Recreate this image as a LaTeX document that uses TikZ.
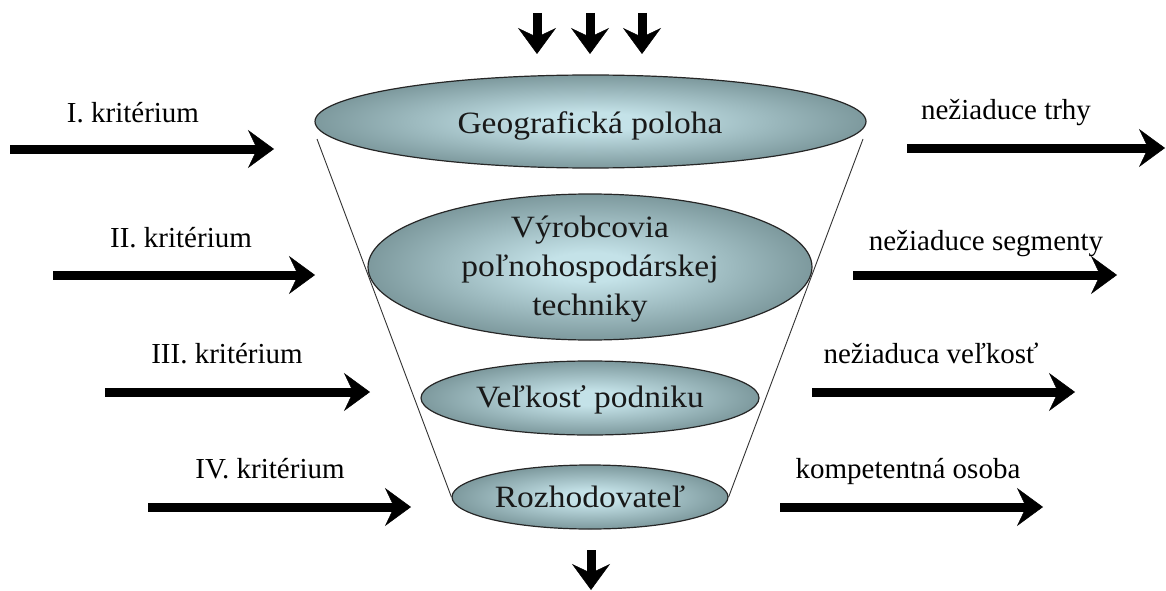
\documentclass[tikz,border=0pt]{standalone}
\usepackage{fontspec}
\setmainfont{Liberation Serif}
\newfontfamily\widefont{Liberation Serif}[FakeStretch=1.08]
\usetikzlibrary{shapes.geometric,arrows.meta}
\definecolor{fin}{RGB}{196,226,232}
\definecolor{fmid}{RGB}{118,146,150}
\definecolor{fout}{RGB}{58,76,78}
\pgfdeclareradialshading{funnelshade}{\pgfpoint{0bp}{0bp}}{color(0bp)=(fin); color(5bp)=(fin); color(27bp)=(fmid); color(50bp)=(fout)}
\begin{document}
\begin{tikzpicture}[x=1pt,y=-1pt,
 ell/.style={ellipse, draw=black!85, line width=1.2pt, shading=funnelshade, inner sep=0pt},
 etxt/.style={anchor=base, font=\widefont\fontsize{31}{36}\selectfont, text=black!90, inner sep=0pt},
 lbl/.style={anchor=base, font=\fontsize{29}{30}\selectfont, inner sep=0pt},
 bigarrow/.style={line width=9pt, -{Stealth[length=26pt,width=38pt,inset=9pt,line width=0.5pt]}},
 funnelline/.style={line width=0.9pt, black!80}
]
\useasboundingbox (0,0) rectangle (1166,591);

% funnel sides
\coordinate (lt) at (317,139);
\coordinate (rt) at (863,139);

% ellipses
\node[ell, minimum width=551, minimum height=93] (e1) at (590.5,121.5) {};
\node[ell, minimum width=444, minimum height=146] (e2) at (590,267) {};
\node[ell, minimum width=338, minimum height=74] (e3) at (590,398) {};
\node[ell, minimum width=276, minimum height=64] (e4) at (590,497) {};

\draw[funnelline] (lt) -- (e4.west);
\draw[funnelline] (rt) -- (e4.east);

% ellipse texts
\node[etxt] (t1) at (590,133) {Geografická poloha};
\node[etxt] (t2a) at (590,237) {Výrobcovia};
\node[etxt] (t2b) at (590,276) {poľnohospodárskej};
\node[etxt] (t2c) at (590,315) {techniky};
\node[etxt] (t3) at (590,407) {Veľkosť podniku};
\node[etxt] (t4) at (590,507) {Rozhodovateľ};

% top and bottom arrows
\coordinate (ta1) at (537,13); \coordinate (tb1) at (537,54);
\coordinate (ta2) at (590,13); \coordinate (tb2) at (590,54);
\coordinate (ta3) at (642,13); \coordinate (tb3) at (642,54);
\draw[bigarrow] (ta1) -- (tb1);
\draw[bigarrow] (ta2) -- (tb2);
\draw[bigarrow] (ta3) -- (tb3);
\coordinate (ba) at (591,550); \coordinate (bb) at (591,590);
\draw[bigarrow] (ba) -- (bb);

% left arrows
\coordinate (la1) at (10,149);  \coordinate (lb1) at (274,149);
\coordinate (la2) at (53,275);  \coordinate (lb2) at (315,275);
\coordinate (la3) at (105,392); \coordinate (lb3) at (370,392);
\coordinate (la4) at (148,507); \coordinate (lb4) at (411,507);
\draw[bigarrow] (la1) -- (lb1);
\draw[bigarrow] (la2) -- (lb2);
\draw[bigarrow] (la3) -- (lb3);
\draw[bigarrow] (la4) -- (lb4);
\node[lbl] (l1) at (133,122) {I. kritérium};
\node[lbl] (l2) at (181,247) {II. kritérium};
\node[lbl] (l3) at (227,363) {III. kritérium};
\node[lbl] (l4) at (270,478) {IV. kritérium};

% right arrows
\coordinate (ra1) at (907,148);  \coordinate (rb1) at (1165,148);
\coordinate (ra2) at (853,275);  \coordinate (rb2) at (1117,275);
\coordinate (ra3) at (812,392);  \coordinate (rb3) at (1075,392);
\coordinate (ra4) at (780,507);  \coordinate (rb4) at (1043,507);
\draw[bigarrow] (ra1) -- (rb1);
\draw[bigarrow] (ra2) -- (rb2);
\draw[bigarrow] (ra3) -- (rb3);
\draw[bigarrow] (ra4) -- (rb4);
\node[lbl] (r1) at (1006,120) {nežiaduce trhy};
\node[lbl] (r2) at (986,250) {nežiaduce segmenty};
\node[lbl] (r3) at (931,363) {nežiaduca veľkosť};
\node[lbl] (r4) at (908,478) {kompetentná osoba};
\end{tikzpicture}
\end{document}
